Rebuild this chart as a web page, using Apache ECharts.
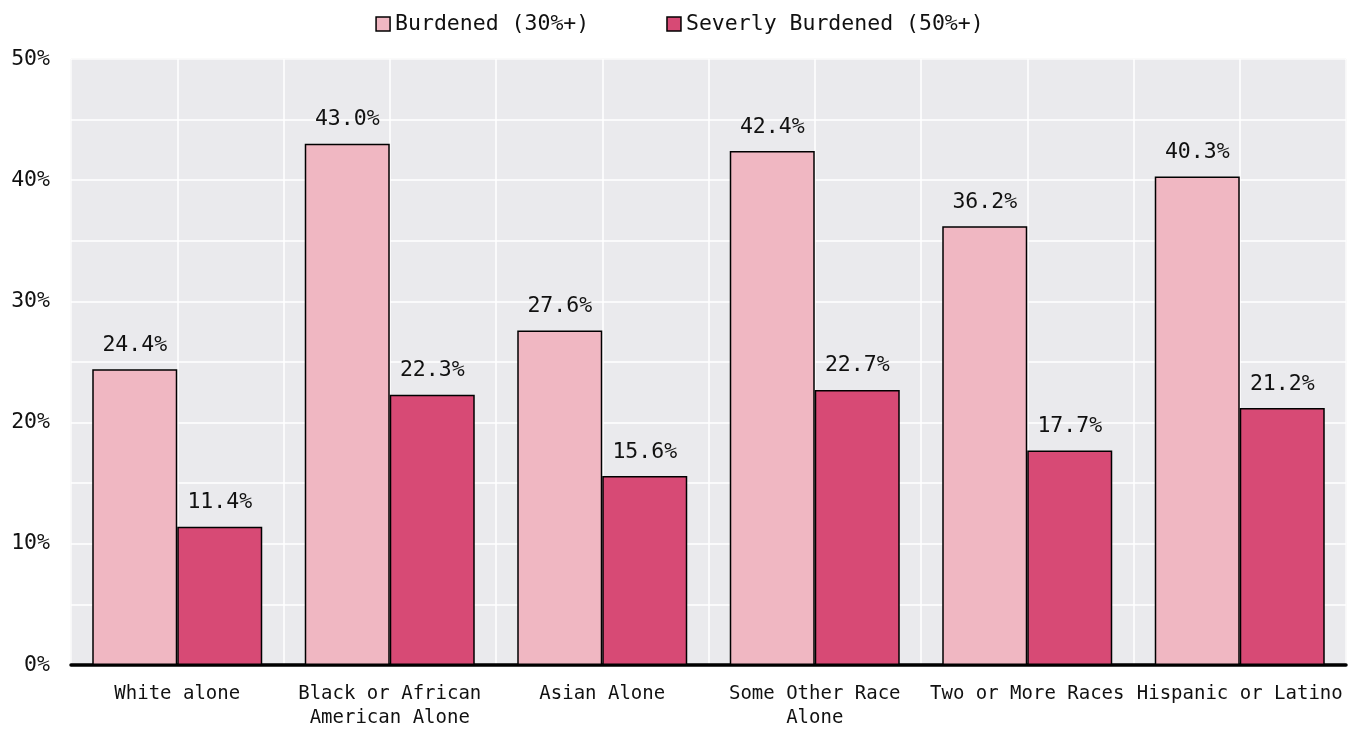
<!DOCTYPE html>
<html>
<head>
<meta charset="utf-8">
<script src="https://cdn.jsdelivr.net/npm/echarts@6/dist/echarts.min.js"></script>
<style>
  html, body { margin: 0; padding: 0; background: #fff; }
  #chart { width: 1359px; height: 730px; }
</style>
</head>
<body>
<div id="chart"></div>
<script>
const categories = ['White alone', 'Black or African\nAmerican Alone', 'Asian Alone', 'Some Other Race\nAlone', 'Two or More Races', 'Hispanic or Latino'];
const burdened = [24.4, 43.0, 27.6, 42.4, 36.2, 40.3];
const severe = [11.4, 22.3, 15.6, 22.7, 17.7, 21.2];
const seriesNames = ['Burdened (30%+)', 'Severly Burdened (50%+)'];

const mono = 'DejaVu Sans Mono';
const myChart = echarts.init(document.getElementById('chart'));

function barSeries(name, data, color) {
  return {
    name: name,
    type: 'bar',
    data: data,
    barGap: '0%',
    barCategoryGap: '20%',
    itemStyle: { color: color, borderColor: '#000', borderWidth: 1.5 },
    label: {
      show: true,
      position: 'top',
      distance: 13,
      fontFamily: mono,
      fontSize: 21.5,
      color: '#111',
      formatter(p) {
        return p.value.toFixed(1) + '%';
      },
    },
  };
}

const option = {
  animation: false,
  legend: {
    top: 8,
    left: 'center',
    icon: 'rect',
    itemWidth: 14,
    itemHeight: 14,
    itemGap: 77,
    itemStyle: { borderColor: '#000', borderWidth: 1.5 },
    textStyle: { fontFamily: mono, fontSize: 21.5, color: '#111' },
    data: seriesNames,
  },
  grid: {
    left: 71,
    right: 13,
    top: 59,
    bottom: 61,
    show: true,
    backgroundColor: '#EAEAED',
    borderColor: '#d6d6d8',
    borderWidth: 1,
  },
  xAxis: [
    {
      type: 'category',
      data: categories,
      axisLine: { show: true, lineStyle: { color: '#000', width: 3.5 } },
      axisTick: { show: false },
      splitLine: { show: false },
      axisLabel: {
        interval: 0,
        margin: 17,
        fontFamily: mono,
        fontSize: 19,
        lineHeight: 24,
        color: '#111',
      },
    },
    {
      // only used for the vertical white gridlines
      type: 'value',
      min: 0,
      max: 6,
      interval: 0.5,
      position: 'bottom',
      axisLine: { show: false },
      axisTick: { show: false },
      axisLabel: { show: false },
      splitLine: { show: true, lineStyle: { color: '#fff', width: 1.5 } },
    },
  ],
  yAxis: {
    type: 'value',
    min: 0,
    max: 50,
    interval: 10,
    axisLine: { show: false },
    axisTick: { show: false },
    axisLabel: {
      margin: 21,
      fontFamily: mono,
      fontSize: 21.5,
      color: '#111',
      formatter: '{value}%',
    },
    splitLine: { show: true, lineStyle: { color: '#fff', width: 1.5 } },
    minorTick: { show: false, splitNumber: 2 },
    minorSplitLine: { show: true, lineStyle: { color: '#fff', width: 1.5 } },
  },
  series: [
    barSeries(seriesNames[0], burdened, '#F0B7C2'),
    barSeries(seriesNames[1], severe, '#D74A75'),
  ],
};

myChart.setOption(option);
</script>
</body>
</html>
